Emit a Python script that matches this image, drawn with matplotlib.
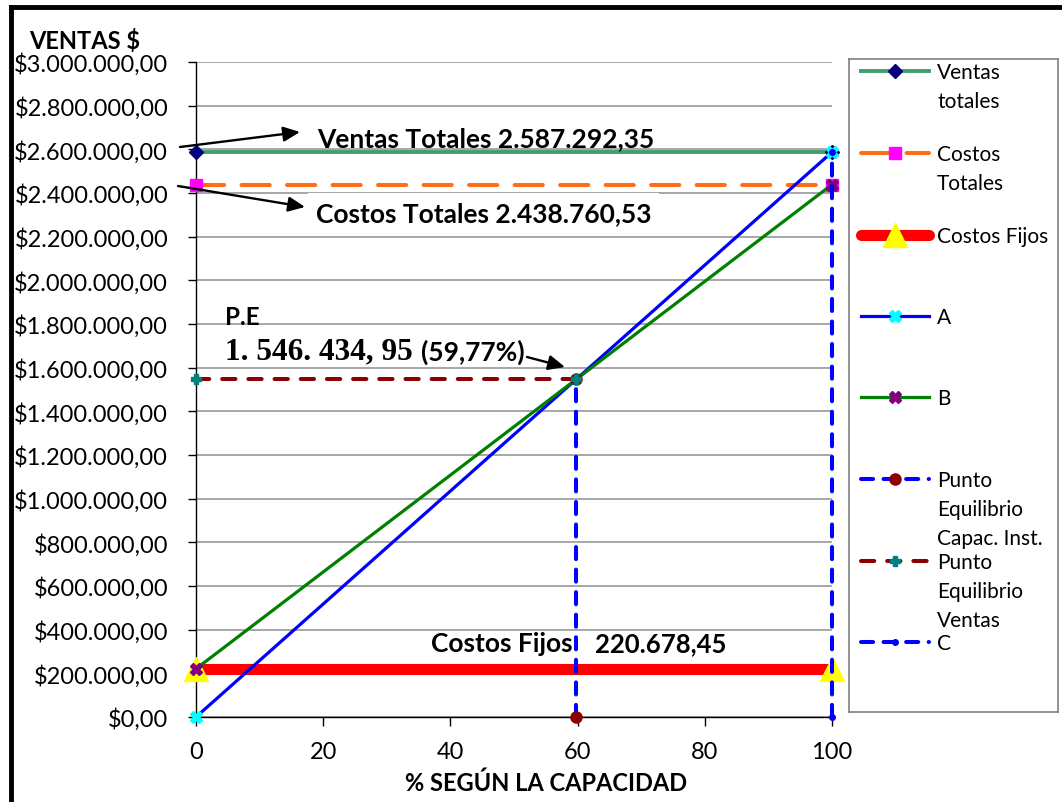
import matplotlib
matplotlib.use("Agg")
import matplotlib.pyplot as plt
from matplotlib.ticker import FuncFormatter, MultipleLocator

# --- data ---------------------------------------------------------------
x_cap = [0, 100]
ventas_totales = [2587292.35, 2587292.35]
costos_totales = [2438760.53, 2438760.53]
costos_fijos = [220678.45, 220678.45]
linea_a = [0, 2587292.35]
linea_b = [220678.45, 2438760.53]
pe_x = [59.77, 59.77]
pe_y = [0, 1546434.95]
pev_x = [0, 59.77]
pev_y = [1546434.95, 1546434.95]
c_x = [100, 100]
c_y = [0, 2587292.35]

x_ticks = [0, 20, 40, 60, 80, 100]
legend_labels = [
    ["Ventas", "totales"],
    ["Costos", "Totales"],
    ["Costos Fijos"],
    ["A"],
    ["B"],
    ["Punto", "Equilibrio", "Capac. Inst."],
    ["Punto", "Equilibrio", "Ventas"],
    ["C"],
]

FONT = "Lato"
W, H = 1062, 803


def fp(x, y):
    # image pixel (top-left origin) -> figure pixel
    return (x, H - y)


def ff(x, y):
    # image pixel -> figure fraction
    return (x / W, (H - y) / H)


def money(v, pos=None):
    s = f"${v:,.2f}"
    return s.replace(",", "#").replace(".", ",").replace("#", ".")


plt.rcParams["font.family"] = [FONT, "DejaVu Sans"]

fig = plt.figure(figsize=(W / 100, H / 100), dpi=100)
ax = fig.add_axes([196 / W, 85 / H, 636 / W, 655 / H])
ax.set_xlim(0, 100)
ax.set_ylim(0, 3000000)
ax.yaxis.set_major_locator(MultipleLocator(200000))
ax.yaxis.set_major_formatter(FuncFormatter(money))
ax.set_xticks(x_ticks)
ax.set_axisbelow(True)
ax.grid(axis="y", color="#A0A0A0", lw=1.3)
for s in ["top", "right"]:
    ax.spines[s].set_visible(False)
for s in ["left", "bottom"]:
    ax.spines[s].set_color("black")
    ax.spines[s].set_linewidth(1)
ax.tick_params(axis="y", direction="out", length=6, width=1, pad=14, labelsize=17)
ax.tick_params(axis="x", direction="out", length=6.5, width=1, pad=11, labelsize=17)

# --- styles (shared by plot and legend keys) ----------------------------
styles = [
    dict(color="#3E9E6E", lw=2.8, marker="D", ms=7, mfc="#000080", mec="#000080"),
    dict(color="#FF6E14", lw=2.9, ls=(0, (7, 4.3)), dash_capstyle="round",
         marker="s", ms=8, mfc="#FF00FF", mec="#FF00FF"),
    dict(color="#FF0000", lw=8, solid_capstyle="butt", marker="^", ms=17,
         mfc="#FFFF00", mec="#FFFF00"),
    dict(color="#0000FF", lw=2.3, marker="X", ms=8, mfc="#00FFFF", mec="#00FFFF"),
    dict(color="#008000", lw=2.3, marker="X", ms=8, mfc="#800080", mec="#800080"),
    dict(color="#0000FF", lw=2.9, ls=(0, (3, 2.6)), dash_capstyle="round",
         marker="o", ms=8, mfc="#8B0000", mec="#8B0000"),
    dict(color="#8B0000", lw=2.9, ls=(0, (3.3, 3.2)), dash_capstyle="round",
         marker="P", ms=7, mfc="#008080", mec="#008080"),
    dict(color="#0000FF", lw=2.9, ls=(0, (3, 2.6)), dash_capstyle="round",
         marker="o", ms=4, mfc="#0000FF", mec="#0000FF"),
]

series = [
    (x_cap, ventas_totales),
    (x_cap, costos_totales),
    (x_cap, costos_fijos),
    (x_cap, linea_a),
    (x_cap, linea_b),
    (pe_x, pe_y),
    (pev_x, pev_y),
    (c_x, c_y),
]
for i, ((xs, ys), st) in enumerate(zip(series, styles)):
    ax.plot(xs, ys, clip_on=False, zorder=3 + i * 0.1, **st)

# --- annotations --------------------------------------------------------
arrow = dict(arrowstyle="-|>,head_length=1.0,head_width=0.45", color="black",
             lw=1.7, shrinkA=0, shrinkB=0)

ax.annotate("", xy=fp(300, 133), xycoords="figure pixels",
            xytext=fp(180, 148), textcoords="figure pixels",
            arrowprops=arrow, annotation_clip=False, zorder=5)
ax.annotate("Ventas Totales 2.587.292,35", xy=fp(317, 139), xycoords="figure pixels",
            ha="left", va="center", fontsize=19, fontweight="bold",
            annotation_clip=False, zorder=5)

ax.annotate("", xy=fp(305, 208), xycoords="figure pixels",
            xytext=fp(178, 187), textcoords="figure pixels",
            arrowprops=arrow, annotation_clip=False, zorder=5)
ax.annotate("Costos Totales 2.438.760,53", xy=fp(316, 214), xycoords="figure pixels",
            ha="left", va="center", fontsize=19, fontweight="bold",
            bbox=dict(boxstyle="square,pad=0.3", fc="white", ec="none"),
            annotation_clip=False, zorder=2)

ax.annotate("P.E", xy=fp(225, 318), xycoords="figure pixels",
            ha="left", va="center", fontsize=17.5, fontweight="bold", zorder=5)
ax.annotate("1. 546. 434, 95", xy=fp(225, 352), xycoords="figure pixels",
            ha="left", va="center", fontsize=22.5, fontweight="bold",
            family=["Liberation Serif", "DejaVu Serif"], zorder=5)
ax.annotate("(59,77%)", xy=fp(421, 352), xycoords="figure pixels",
            ha="left", va="center", fontsize=19, fontweight="bold", zorder=5)
ax.annotate("", xy=fp(565, 368), xycoords="figure pixels",
            xytext=fp(527, 358), textcoords="figure pixels",
            arrowprops=arrow, zorder=5)

ax.annotate("Costos Fijos", xy=fp(431, 644), xycoords="figure pixels",
            ha="left", va="center", fontsize=19, fontweight="bold", zorder=2)
ax.annotate("220.678,45", xy=fp(595, 644), xycoords="figure pixels",
            ha="left", va="center", fontsize=18.5, fontweight="bold", zorder=2)

fig.text(*ff(85, 41), "VENTAS $", ha="center", va="center",
         fontsize=17, fontweight="bold")
fig.text(*ff(546, 783), "% SEGÚN LA CAPACIDAD", ha="center", va="center",
         fontsize=17, fontweight="bold")

# --- legend (drawn by hand so keys sit on the first text line) ----------
lax = fig.add_axes([849 / W, (H - 713) / H, 209 / W, 653 / H])
lax.set_xlim(849, 1058)
lax.set_ylim(713, 60)
lax.set_xticks([])
lax.set_yticks([])
for s in lax.spines.values():
    s.set_color("#808080")
    s.set_linewidth(1.2)

key_y = [72, 154, 236, 317, 398, 480, 562, 643]
for y, lines, st in zip(key_y, legend_labels, styles):
    line_st = {k: v for k, v in st.items() if not k.startswith("m")}
    mark_st = {k: v for k, v in st.items() if k.startswith("m")}
    if st["lw"] > 5:
        line_st["solid_capstyle"] = "round"
    lax.plot([861, 929], [y, y], **line_st)
    lax.plot([895], [y], ls="none", **mark_st)
    for j, txt in enumerate(lines):
        lax.text(937, y + 1 + j * 29, txt, ha="left", va="center", fontsize=15)

# --- outer frame (left and top) -----------------------------------------
fig.add_artist(plt.Line2D([11 / W, 11 / W], [0, (H - 8) / H],
                          transform=fig.transFigure, color="black", lw=3.5))
fig.add_artist(plt.Line2D([11 / W, 1], [(H - 8) / H, (H - 8) / H],
                          transform=fig.transFigure, color="black", lw=3.5))

fig.savefig("out.png", dpi=100)
